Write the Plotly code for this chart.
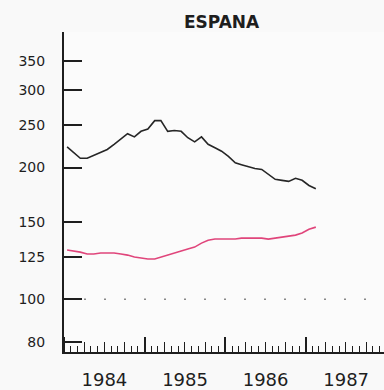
import pandas as pd
import plotly.graph_objects as go

# Monthly index values (mid-month), January 1984 to February 1987
months = pd.date_range("1984-01-01", periods=38, freq="MS") + pd.Timedelta(days=14)

black_series = [223, 216, 210, 210, 213, 216, 220, 226, 233, 239,
                235, 242, 245, 256, 256, 242, 243, 242, 234, 229,
                235, 226, 222, 218, 212, 205, 203, 201, 199, 198,
                193, 188, 187, 186, 189, 187, 182, 179]
red_series = [129.6, 128.9, 128.2, 126.9, 126.9, 127.6, 127.6, 127.6, 126.9, 126.2,
              124.9, 124.3, 123.6, 123.6, 124.9, 126.2, 127.6, 128.9, 130.3, 131.6,
              134.4, 136.5, 137.3, 137.3, 137.3, 137.3, 138.0, 138.0, 138.0, 138.0,
              137.3, 138.0, 138.7, 139.4, 140.2, 141.7, 144.6, 146.2]

y_ticks = [80, 100, 125, 150, 200, 250, 300, 350]
baseline = 100
title_text = "ESPANA"
x_range = ["1984-01-01", "1987-12-21"]
ink = "#1e1e1e"

fig = go.Figure()
fig.add_trace(go.Scatter(x=months, y=black_series, mode="lines",
                         line=dict(color="#262626", width=1.6), hoverinfo="skip"))
fig.add_trace(go.Scatter(x=months, y=red_series, mode="lines",
                         line=dict(color="#e0457b", width=1.6), hoverinfo="skip"))

# dotted reference line at the base value
fig.add_shape(type="line", xref="paper", x0=0, x1=1, yref="y", y0=baseline, y1=baseline,
              line=dict(color="#888888", width=1.5, dash="2px,18px"), layer="below")

fig.update_layout(
    width=384, height=390,
    margin=dict(l=64, r=0, t=32, b=36),
    paper_bgcolor="#f9f9f9", plot_bgcolor="#fbfbfb",
    showlegend=False,
    font=dict(family="DejaVu Sans", color=ink),
    title=dict(text="<b>" + title_text + "</b>", x=0.577, xanchor="center",
               y=1 - 22 / 390, yanchor="middle", font=dict(size=17, color=ink)),
)

fig.update_xaxes(
    type="date", range=x_range,
    showgrid=False, zeroline=False,
    showline=True, linecolor=ink, linewidth=2,
    ticks="inside", ticklen=15, tickwidth=1.5, tickcolor=ink,
    tick0="1984-01-01", dtick="M12", tickformat="%Y", ticklabelmode="period",
    ticklabelstandoff=10,
    tickfont=dict(size=18, color=ink),
)

# extra tick-only axes: quarterly and monthly tick marks along the time axis
fig.update_layout(
    xaxis2=dict(type="date", overlaying="x", matches="x", range=x_range, side="bottom",
                anchor="y", showgrid=False, zeroline=False, showline=False,
                ticks="inside", ticklen=10, tickwidth=1.3, tickcolor=ink,
                tick0="1984-01-01", dtick="M3", showticklabels=False),
    xaxis3=dict(type="date", overlaying="x", matches="x", range=x_range, side="bottom",
                anchor="y", showgrid=False, zeroline=False, showline=False,
                ticks="inside", ticklen=6, tickwidth=1.2, tickcolor=ink,
                tick0="1984-01-01", dtick="M1", showticklabels=False),
)
fig.add_trace(go.Scatter(x=[months[0]], y=[baseline], xaxis="x2", mode="markers",
                         marker=dict(opacity=0), hoverinfo="skip"))
fig.add_trace(go.Scatter(x=[months[0]], y=[baseline], xaxis="x3", mode="markers",
                         marker=dict(opacity=0), hoverinfo="skip"))

fig.update_yaxes(
    type="log", range=[1.8797, 2.6107],
    showgrid=False, zeroline=False,
    showline=True, linecolor=ink, linewidth=2,
    ticks="inside", ticklen=18, tickwidth=1.5, tickcolor=ink,
    tickvals=y_ticks, ticktext=[str(v) for v in y_ticks],
    ticklabelstandoff=14,
    tickfont=dict(size=14, color=ink),
)

fig.write_html("out.html")
